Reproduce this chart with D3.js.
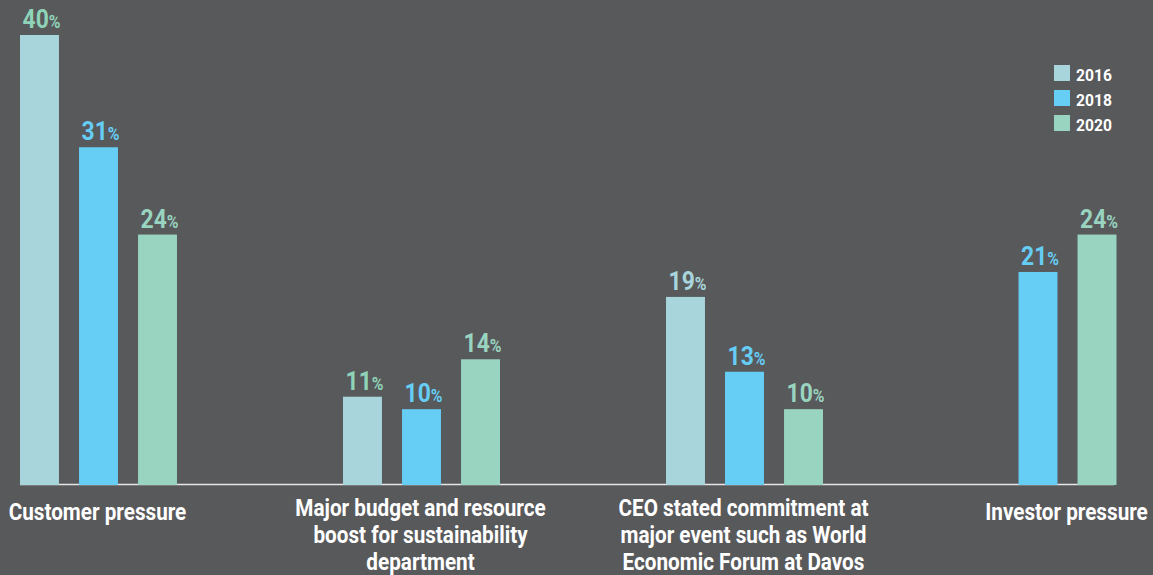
<!DOCTYPE html>
<html>
<head>
<meta charset="utf-8">
<script src="https://cdn.jsdelivr.net/npm/d3@7"></script>
<style>
  html, body { margin: 0; padding: 0; background: #58595b; }
  svg { display: block; font-family: Roboto, "Liberation Sans", sans-serif; font-weight: 700; }
</style>
</head>
<body>
<div id="chart"></div>
<script>
var width = 1153, height = 575;

// data
var categories = [
  ["Customer pressure"],
  ["Major budget and resource", "boost for sustainability", "department"],
  ["CEO stated commitment at", "major event such as World", "Economic Forum at Davos"],
  ["Investor pressure"]
];
var years = ["2016", "2018", "2020"];
var values2016 = [40, 11, 19, null];
var values2018 = [31, 10, 13, 21];
var values2020 = [24, 14, 10, 24];

var color = d3.scaleOrdinal().domain(years).range(["#a8d5dc", "#66cdf5", "#98d4c0"]);
// a few value labels use another tint than their bar
var labelColor = function(d) {
  if (d.year == "2016" && d.cat < 2) return "#8fd3b8";
  return color(d.year);
};

var series = [values2016, values2018, values2020];
var groups = categories.map(function(c, i) {
  var bars = [];
  years.forEach(function(y, j) {
    if (series[j][i] != null) bars.push({ year: y, value: series[j][i], cat: i });
  });
  return { idx: i, lines: c, bars: bars };
});

var svg = d3.select("#chart").append("svg").attr("width", width).attr("height", height);

var x0 = d3.scaleBand()
    .domain(d3.range(categories.length))
    .range([20, 1146])
    .paddingInner(0.514)
    .paddingOuter(0);

var barStep = x0.bandwidth() / (3 - 0.34);
var y = d3.scaleLinear().domain([4, 40]).range([484, 35]);

var sx = 0.9; // condense the bold face a little

// baseline
svg.append("line")
    .attr("x1", x0(0)).attr("x2", 1114)
    .attr("y1", y(4) + 0.5).attr("y2", y(4) + 0.5)
    .attr("stroke", "#e6e6e6").attr("stroke-width", 1.5);

var g = svg.selectAll("g.group")
  .data(groups)
  .enter().append("g")
    .attr("class", "group")
    .attr("transform", function(d) { return "translate(" + x0(d.idx) + ",0)"; });

g.each(function(gd) {
  var n = gd.bars.length;
  var w = n * barStep - 0.34 * barStep;
  var x1 = d3.scaleBand()
      .domain(gd.bars.map(function(b) { return b.year; }))
      .range([(x0.bandwidth() - w) / 2, (x0.bandwidth() + w) / 2])
      .paddingInner(0.34)
      .paddingOuter(0);

  var sel = d3.select(this);

  sel.selectAll("rect")
    .data(gd.bars)
    .enter().append("rect")
      .attr("x", function(d) { return x1(d.year); })
      .attr("y", function(d) { return y(d.value); })
      .attr("width", x1.bandwidth())
      .attr("height", function(d) { return y(4) + 1 - y(d.value); })
      .attr("fill", function(d) { return color(d.year); });

  var lab = sel.selectAll("text.val")
    .data(gd.bars)
    .enter().append("text")
      .attr("class", "val")
      .attr("text-anchor", "middle")
      .attr("transform", function(d) {
        return "translate(" + (x1(d.year) + x1.bandwidth() / 2 + 2) + "," + (y(d.value) - 7) + ") scale(0.88,1)";
      })
      .attr("fill", labelColor);
  lab.append("tspan").attr("font-size", 26).text(function(d) { return d.value; });
  lab.append("tspan").attr("font-size", 18).text("%");

  // category label (single lines sit a bit lower)
  var ty = gd.lines.length == 1 ? 520 : 516;
  var t = sel.append("text")
      .attr("text-anchor", "middle")
      .attr("fill", "#ffffff")
      .attr("font-size", 23)
      .attr("transform", "translate(" + (x0.bandwidth() / 2 - 1) + "," + ty + ") scale(" + sx + ",1)");
  t.selectAll("tspan")
    .data(gd.lines)
    .enter().append("tspan")
      .attr("x", 0)
      .attr("dy", function(d, i) { return i ? 27 : 0; })
      .text(function(d) { return d; });
});

// legend
var legend = svg.append("g").attr("transform", "translate(1054,65)");
var li = legend.selectAll("g")
  .data(years)
  .enter().append("g")
    .attr("transform", function(d, i) { return "translate(0," + i * 25 + ")"; });
li.append("rect")
    .attr("width", 16).attr("height", 16)
    .attr("fill", function(d) { return color(d); });
li.append("text")
    .attr("transform", "translate(22,15.5) scale(0.92,1)")
    .attr("fill", "#ffffff")
    .attr("font-size", 17)
    .text(function(d) { return d; });
</script>
</body>
</html>
